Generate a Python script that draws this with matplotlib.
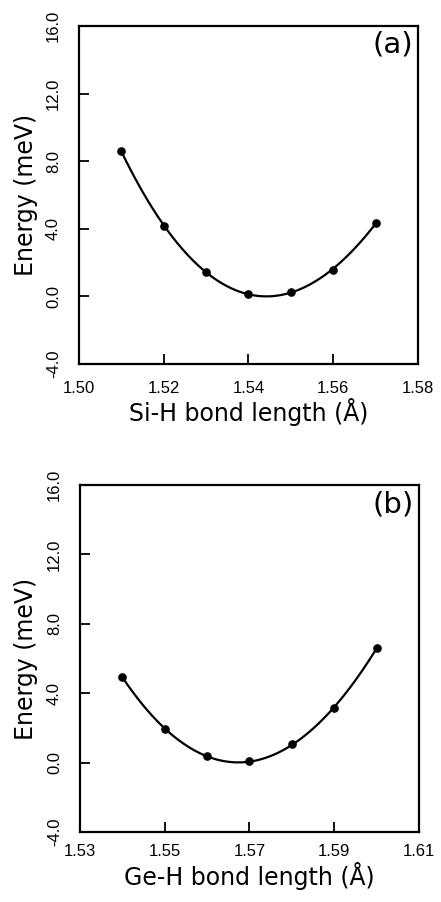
import numpy as np
import matplotlib
matplotlib.use("Agg")
import matplotlib.pyplot as plt

plt.rcParams['font.family'] = ['Liberation Sans', 'DejaVu Sans']

# Panel (a): Si-H
si_x = [1.51, 1.52, 1.53, 1.54, 1.55, 1.56, 1.57]
si_e = [8.59, 4.18, 1.43, 0.14, 0.26, 1.59, 4.32]
# Panel (b): Ge-H
ge_x = [1.54, 1.55, 1.56, 1.57, 1.58, 1.59, 1.60]
ge_e = [4.93, 1.94, 0.36, 0.07, 1.05, 3.15, 6.60]

si_xticks = [1.50, 1.52, 1.54, 1.56, 1.58]
ge_xticks = [1.53, 1.55, 1.57, 1.59, 1.61]
yticks = [-4.0, 0.0, 4.0, 8.0, 12.0, 16.0]

W, H = 441, 902
fig = plt.figure(figsize=(W / 100, H / 100), dpi=100)

def add_axes_px(l, t, r, b):
    return fig.add_axes([l / W, 1 - b / H, (r - l) / W, (b - t) / H])

ax1 = add_axes_px(79, 26, 418, 364)
ax2 = add_axes_px(80, 485, 419, 832)

def panel(ax, x, e, xticks, xlabel, tag, xl_base_px, yl_base_px, xpad):
    x = np.array(x); e = np.array(e)
    c = np.polyfit(x, e, 3)
    xf = np.linspace(x.min(), x.max(), 200)
    ax.plot(xf, np.polyval(c, xf), color='black', lw=1.6)
    ax.plot(x, e, 'o', color='black', ms=5.2)
    ax.set_xlim(xticks[0], xticks[-1])
    ax.set_ylim(-4, 16)
    ax.set_xticks(xticks)
    ax.set_xticklabels([f"{t:.2f}" for t in xticks])
    ax.set_yticks(yticks)
    ax.set_yticklabels([f"{t:.1f}" for t in yticks], rotation=90, va='center')
    ax.tick_params(direction='in', length=7, width=1.3, labelsize=12)
    ax.tick_params(axis='x', pad=xpad)
    ax.tick_params(axis='y', pad=13)
    for s in ax.spines.values():
        s.set_linewidth(1.6)
    bb = ax.get_position()
    hpx = bb.height * H
    wpx = bb.width * W
    ax.set_xlabel(xlabel, fontsize=17, family='DejaVu Sans')
    ax.xaxis.set_label_coords(0.5, -xl_base_px / hpx)
    ax.xaxis.label.set_va('baseline')
    ax.set_ylabel("Energy (meV)", fontsize=17, family='DejaVu Sans')
    ax.yaxis.set_label_coords(-yl_base_px / wpx, 0.5)
    ax.yaxis.label.set_va('baseline')
    ax.text(1 - 5 / wpx, 1 - 5 / hpx, tag, transform=ax.transAxes,
            ha='right', va='top', fontsize=21, family='DejaVu Sans')

panel(ax1, si_x, si_e, si_xticks, "Si-H bond length (Å)", "(a)", 57, 46, 12)
panel(ax2, ge_x, ge_e, ge_xticks, "Ge-H bond length (Å)", "(b)", 53, 47, 9)

fig.savefig("out.png", dpi=100)
